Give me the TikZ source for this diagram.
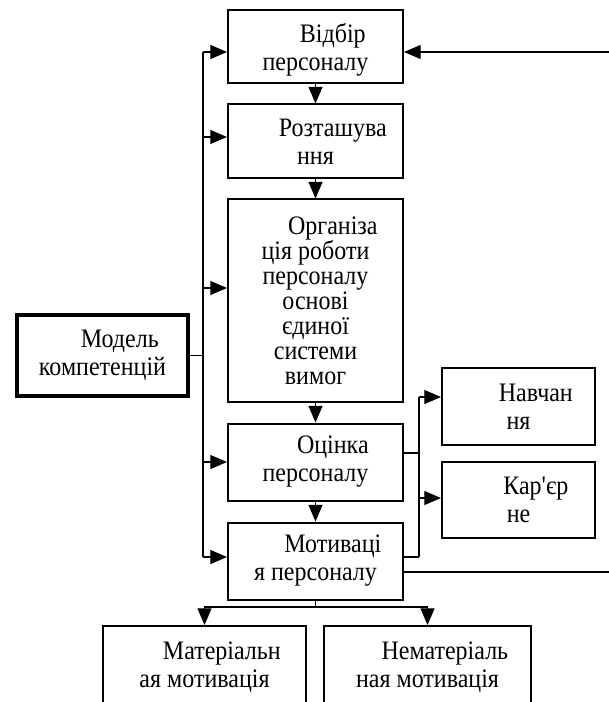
\documentclass[tikz,border=0pt]{standalone}
\usepackage{fontspec}
\setmainfont{Liberation Serif}[FakeStretch=0.9]
\newfontfamily\apfont{Liberation Serif}[FakeStretch=0.9]
\usepackage{tikz}
\usetikzlibrary{arrows.meta}
\usetikzlibrary{positioning}
\newcommand{\firstind}{\hspace*{26pt}}

\begin{document}
\begin{tikzpicture}[x=0.75pt,y=-0.75pt,every node/.style={draw,line width=1.5pt,align=center,inner sep=0pt,minimum width=131.25pt,minimum height=55.5pt,font=\fontsize{20}{21}\selectfont},ln/.style={line width=0.8pt},arr/.style={line width=0.8pt,-{Triangle[length=12.5pt,width=10.5pt]}}]
\useasboundingbox (0,0) rectangle (609,702);
\clip (0,0) rectangle (609,702);
  \node[minimum height=54.75pt,text depth=0pt] (b1) at (315.5,47) {\firstind Відбір\\персоналу};
  \node[below=14.25pt of b1] (b2) {\firstind Розташува\\ння};
  \node[below=14.25pt of b2,minimum height=151.5pt,font=\fontsize{20}{18.75}\selectfont] (b3) {\firstind Організа\\ція роботи\\персоналу\\основі\\єдиної\\системи\\вимог};
  \node[below=15pt of b3,minimum height=57.75pt] (b4) {\firstind Оцінка\\персоналу};
  \node[below=15pt of b4,minimum height=57.75pt] (b5) {\firstind Мотиваці\\я персоналу};
  \node[line width=3.5pt,minimum width=128.25pt,minimum height=60.75pt] (mk) at (102.5,355.5) {\firstind Модель\\компетенцій};
  \node[minimum width=114.75pt,minimum height=57.75pt] (nv) at (518.5,406.5) {\firstind Навчан\\ня};
  \node[minimum width=114.75pt,minimum height=57pt] (kr) at (518.5,500) {\firstind Кар{\apfont'}єр\\не};
  \node[minimum width=152.25pt,minimum height=61.5pt] (ml) at (204.5,667) {\firstind Матеріальн\\ая мотивація};
  \node[minimum width=155.25pt,minimum height=61.5pt] (nm) at (427.5,667) {\firstind Нематеріаль\\ная мотивація};
  \coordinate (v1) at (203,52);
  \coordinate (v2) at (203,137);
  \coordinate (v3) at (203,288);
  \coordinate (v4) at (203,462);
  \coordinate (v5) at (203,557);
  \coordinate (r1) at (419,397);
  \coordinate (r2) at (419,453);
  \coordinate (r3) at (419,498);
  \coordinate (r4) at (419,557);
  \coordinate (fb) at (609,52);
  \coordinate (fo) at (609,572);
  \coordinate (hb) at (316,607);
  \draw[ln](v1)--(v5);
  \draw[ln](mk)--(mk -| v1);
  \draw[arr](v1)--(v1 -| b1.west);
  \draw[arr](v2)--(v2 -| b2.west);
  \draw[arr](v3)--(v3 -| b3.west);
  \draw[arr](v4)--(v4 -| b4.west);
  \draw[arr](v5)--(v5 -| b5.west);
  \draw[arr](b1)--(b2);
  \draw[arr](b2)--(b3);
  \draw[arr](b3)--(b4);
  \draw[arr](b4)--(b5);
  \draw[arr](fb)--(fb -| b1.east);
  \draw[ln](fo -| b5.east)--(fo);
  \draw[ln](r2 -| b4.east)--(r2);
  \draw[ln](r4 -| b5.east)--(r4);
  \draw[ln](r1)--(r4);
  \draw[arr](r1)--(r1 -| nv.west);
  \draw[arr](r3)--(r3 -| kr.west);
  \draw[ln](b5.south)--(b5.south |- hb);
  \draw[arr](b5.south |- hb) -| (ml);
  \draw[arr](b5.south |- hb) -| (nm);
\end{tikzpicture}
\end{document}
